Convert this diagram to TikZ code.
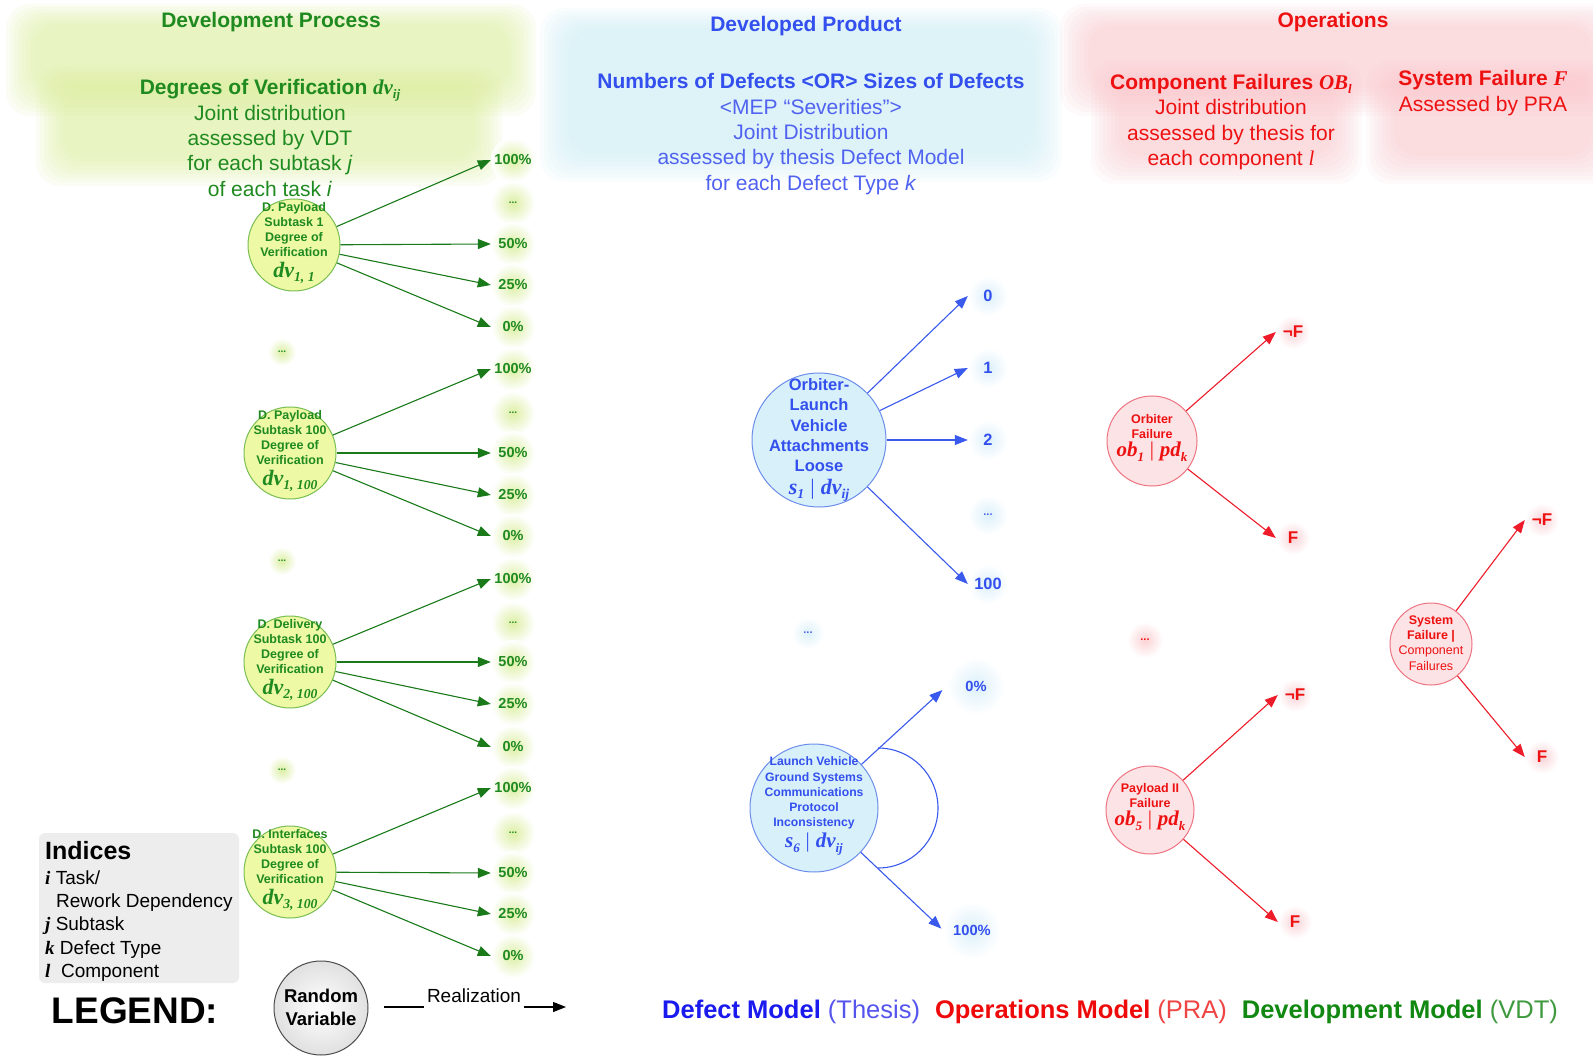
\documentclass[tikz,border=0pt]{standalone}
\usepackage{fontspec}
\usepackage{graphicx}
\setmainfont{Liberation Sans}
\newfontfamily\tms{Liberation Serif}
\usetikzlibrary{arrows.meta}
\newcommand\fs[2]{\fontsize{#1}{#2}\selectfont}
\newcommand\mv[2]{{\tms\bfseries\itshape #1\raisebox{-0.2em}{\scalebox{0.62}{#2}}}}
\newcommand\cnd{\;{\tms\mdseries\upshape|}\;}
\newcommand\ix[1]{{\tms\bfseries\itshape #1}}
\definecolor{gbg}{HTML}{DDF09A}
\definecolor{bbg}{HTML}{CDEEF8}
\definecolor{rbg}{HTML}{FBC8CE}
\definecolor{gtxt}{HTML}{1F8A1F}
\definecolor{gtxt2}{HTML}{2E962E}
\definecolor{btxt}{HTML}{3350EE}
\definecolor{btxt2}{HTML}{5062F0}
\definecolor{rtxt}{HTML}{EE1111}
\definecolor{garr}{HTML}{1A7A1A}
\definecolor{barr}{HTML}{3A5AEE}
\definecolor{rarr}{HTML}{EE1C2A}
\definecolor{gfill}{HTML}{EEF9A6}
\definecolor{gline}{HTML}{78BE50}
\definecolor{bfill}{HTML}{D8F0FA}
\definecolor{bline}{HTML}{6C8EEA}
\definecolor{rfill}{HTML}{FCE3E6}
\definecolor{rline}{HTML}{EE7482}
\definecolor{gglow}{HTML}{DCEFA4}
\definecolor{bglow}{HTML}{DCF0FA}
\definecolor{rglow}{HTML}{F9D3D8}
\definecolor{idxbg}{HTML}{EDEDED}
\definecolor{lgblue}{HTML}{1A1AEE}
\definecolor{lgblue2}{HTML}{5555EE}
\definecolor{lgred}{HTML}{EE0A0A}
\definecolor{lgred2}{HTML}{EE4444}
\definecolor{lggreen}{HTML}{118811}
\definecolor{lggreen2}{HTML}{3F9A3F}
\tikzset{
  htitle/.style={inner sep=0pt, font=\fs{21}{25.4}\bfseries},
  hblock/.style={inner sep=0pt, align=center, font=\fs{21}{25.4}},
  gcirc/.style={circle, draw=gline, fill=gfill, line width=1pt, minimum size=92pt, inner sep=0pt},
  bcirc/.style={circle, draw=bline, fill=bfill, line width=1pt, inner sep=0pt},
  rcirc/.style={circle, draw=rline, fill=rfill, line width=1pt, inner sep=0pt},
  ctext/.style={align=center, inner sep=0pt, font=\fs{12.5}{15.2}\bfseries},
  arrowtip/.style={-{Triangle[length=13pt,width=10pt]}},
  garrow/.style={draw=garr, line width=1.1pt, arrowtip},
  barrow/.style={draw=barr, line width=1.1pt, arrowtip},
  rarrow/.style={draw=rarr, line width=1.1pt, arrowtip},
  glab/.style={circle, inner sep=0pt, minimum size=44pt, shade, shading=radial, inner color=gglow, outer color=white, text=gtxt, font=\fs{14.5}{17}\bfseries},
  blab/.style={circle, inner sep=0pt, minimum size=40pt, shade, shading=radial, inner color=bglow, outer color=white, text=btxt, font=\fs{16.4}{19}\bfseries},
  blab2/.style={blab, minimum size=58pt, font=\fs{14.7}{17}\bfseries},
  rlab/.style={circle, inner sep=0pt, minimum size=34pt, shade, shading=radial, inner color=rglow, outer color=white, text=rtxt, font=\fs{17}{19}\bfseries},
  idxline/.style={anchor=base west, inner sep=0pt, font=\fs{19}{23}},
}
\begin{document}
\begin{tikzpicture}[x=1pt,y=-1pt]
\useasboundingbox (0,0) rectangle (1593,1056);
\fill[white] (0,0) rectangle (1593,1056);
% soft background panels
\begin{scope}
\clip (0,0) rectangle (1593,1056);
\foreach \k in {0,...,7}{
  \fill[gbg, opacity=0.1, rounded corners=24pt] ({6+4*\k},{4+3*\k}) rectangle ({536-4*\k},{116-4*\k});
  \fill[gbg, opacity=0.1, rounded corners=24pt] ({36+4*\k},{66+3*\k}) rectangle ({502-4*\k},{186-4*\k});
  \fill[bbg, opacity=0.11, rounded corners=24pt] ({540+4*\k},{8+3*\k}) rectangle ({1062-4*\k},{182-4*\k});
  \fill[rbg, opacity=0.1, rounded corners=24pt] ({1060+4*\k},{4+3*\k}) rectangle ({1620-4*\k},{116-4*\k});
  \fill[rbg, opacity=0.1, rounded corners=24pt] ({1091+4*\k},{60+3*\k}) rectangle ({1362-4*\k},{184-4*\k});
  \fill[rbg, opacity=0.1, rounded corners=24pt] ({1366+4*\k},{60+3*\k}) rectangle ({1620-4*\k},{184-4*\k});
}
\end{scope}
% headers
\node[htitle, text=gtxt] (devp) at (271,22) {Development Process};
\node[hblock, text=gtxt] (dov) at (270,138) {\textbf{Degrees of Verification \mv{dv}{ij}}\\Joint distribution\\assessed by VDT\\for each subtask \textit{j}\\of each task \textit{i}};
\node[htitle, text=btxt] (devprod) at (806,26) {Developed Product};
\node[hblock, text=btxt2] (nod) at (811,134) {\textcolor{btxt}{\textbf{Numbers of Defects <OR> Sizes of Defects}}\\<MEP “Severities”>\\Joint Distribution\\assessed by thesis Defect Model\\for each Defect Type \textit{k}};
\node[htitle, text=rtxt] (ops) at (1333,22) {Operations};
\node[hblock, text=rtxt] (cf) at (1231,122) {\textbf{Component Failures \mv{OB}{l}}\\Joint distribution\\assessed by thesis for\\each component {\tms\itshape l}};
\node[hblock, text=rtxt] (sf) at (1483,93) {\textbf{System Failure {\tms\bfseries\itshape F}}\\Assessed by PRA};
% green development model
\foreach \n/\cx/\cy/\ya/\yb/\yc/\yd/\ye/\tk/\st/\sb in {
  1/294/245/160/203/244/285/327/Payload/1/{1, 1},
  2/290/453/369/413/453/495/536/Payload/100/{1, 100},
  3/290/662/579/623/662/704/747/Delivery/100/{2, 100},
  4/290/872/788/833/873/914/956/Interfaces/100/{3, 100}}{
  \node[gcirc] (g\n) at (\cx,\cy) {};
  \node[ctext, text=gtxt] (g\n t) at (\cx,\cy-2) {D. \tk\\Subtask \st\\Degree of\\Verification\\[4pt]{\fs{22}{22}\mv{dv}{\sb}}};
  \node[glab] (g\n a) at (513,\ya) {100\%};
  \node[glab, font=\fs{10}{12}\bfseries] (g\n b) at (513,\yb) {...};
  \node[glab] (g\n c) at (513,\yc) {50\%};
  \node[glab] (g\n d) at (513,\yd) {25\%};
  \node[glab] (g\n e) at (513,\ye) {0\%};
  \draw[garrow] (g\n) -- (g\n a.west);
  \draw[garrow] (g\n) -- (g\n c.west);
  \draw[garrow] (g\n) -- (g\n d.west);
  \draw[garrow] (g\n) -- (g\n e.west);
}
\node[glab, minimum size=28pt, font=\fs{10}{12}\bfseries] (gd1) at (282,352) {...};
\node[glab, minimum size=28pt, font=\fs{10}{12}\bfseries] (gd2) at (282,561) {...};
\node[glab, minimum size=28pt, font=\fs{10}{12}\bfseries] (gd3) at (282,770) {...};
% blue defect model
\node[bcirc, minimum size=134pt] (b1) at (819,440) {};
\node[ctext, text=btxt, font=\fs{16.5}{20.3}\bfseries] (b1t) at (819,440) {Orbiter-\\Launch\\Vehicle\\Attachments\\Loose\\[2pt]{\fs{22}{22}\mv{s}{1}\cnd\mv{dv}{ij}}};
\node[blab] (b1a) at (988,296) {0};
\node[blab] (b1b) at (988,368) {1};
\node[blab] (b1c) at (988,440) {2};
\node[blab, font=\fs{11}{12}\bfseries, text=btxt2] (b1d) at (988,515) {...};
\node[blab] (b1e) at (988,584) {100};
\draw[barrow] (b1) -- (b1a.west);
\draw[barrow] (b1) -- (b1b.west);
\draw[barrow] (b1) -- (b1c.west);
\draw[barrow] (b1) -- (b1e.west);
\node[blab, minimum size=32pt, font=\fs{11}{12}\bfseries, text=btxt2] (bdots) at (808,633) {...};
\node[bcirc, minimum size=128pt] (b6) at (814,808) {};
\node[ctext, text=btxt, font=\fs{12.2}{15.2}\bfseries] (b6t) at (814,806) {Launch Vehicle\\Ground Systems\\Communications\\Protocol\\Inconsistency\\[3pt]{\fs{21}{21}\mv{s}{6}\cnd\mv{dv}{ij}}};
\node[blab2] (b6a) at (976,686) {0\%};
\node[blab2] (b6b) at (972,930) {100\%};
\draw[barrow, shorten >=6pt] (b6) -- (b6a.west);
\draw[barrow, shorten >=2pt] (b6) -- (b6b.west);
\draw[draw=barr, line width=1.1pt] (878,748) arc[start angle=-90, end angle=90, radius=60];
% red operations model
\node[rcirc, minimum size=90pt] (r1) at (1152,441) {};
\node[ctext, text=rtxt] (r1t) at (1152,438) {Orbiter\\Failure\\[3pt]{\fs{21}{21}\mv{ob}{1}\cnd\mv{pd}{k}}};
\node[rlab] (r1a) at (1293,332) {¬F};
\node[rlab] (r1b) at (1293,538) {F};
\draw[rarrow] (r1) -- (r1a.west);
\draw[rarrow] (r1) -- (r1b.west);
\node[rlab, minimum size=36pt, inner color=rglow!85!red!60!white, font=\fs{11}{12}\bfseries] (rdots) at (1145,640) {...};
\node[rcirc, minimum size=88pt] (r5) at (1150,810) {};
\node[ctext, text=rtxt] (r5t) at (1150,807) {Payload II\\Failure\\[3pt]{\fs{21}{21}\mv{ob}{5}\cnd\mv{pd}{k}}};
\node[rlab] (r5a) at (1295,695) {¬F};
\node[rlab] (r5b) at (1295,922) {F};
\draw[rarrow] (r5) -- (r5a.west);
\draw[rarrow] (r5) -- (r5b.west);
\node[rcirc, minimum size=82pt] (rs) at (1431,644) {};
\node[ctext, text=rtxt, font=\fs{12.5}{15.2}] (rst) at (1431,643) {\textbf{System}\\\textbf{Failure |}\\Component\\Failures};
\node[rlab] (rsa) at (1542,520) {¬F};
\node[rlab] (rsb) at (1542,757) {F};
\draw[rarrow] (rs) -- (rsa.west);
\draw[rarrow] (rs) -- (rsb.west);
% indices
\fill[idxbg, rounded corners=6pt] (39,833) rectangle (239,983);
\node[anchor=base west, inner sep=0pt, font=\fs{25}{28}\bfseries] (idxh) at (45,859) {Indices};
\node[idxline] (idx1) at (45,884) {\ix{i} Task/};
\node[idxline] (idx2) at (56,907) {Rework Dependency};
\node[idxline] (idx3) at (45,930) {\ix{j} Subtask};
\node[idxline] (idx4) at (45,954) {\ix{k} Defect Type};
\node[idxline] (idx5) at (45,977) {\ix{l}\ \ Component};
% legend
\node[inner sep=0pt, font=\fs{37}{40}\bfseries] (legend) at (135,1011) {LEGEND:};
\node[circle, draw=black!70, line width=1pt, minimum size=94pt, inner sep=0pt, shade, shading=radial, inner color=white, outer color=black!12] (rv) at (321,1008) {};
\node[align=center, inner sep=0pt, font=\fs{18.5}{23}\bfseries] (rvt) at (321,1007) {Random\\Variable};
\coordinate (rs0) at (384,1007);
\coordinate (re0) at (566,1007);
\draw[black, line width=1.1pt, arrowtip] (rs0) -- (re0);
\node[fill=white, inner xsep=3pt, inner ysep=4pt, text depth=6pt, font=\fs{19}{22}] (real) at (474,999) {Realization};
\node[inner sep=0pt, font=\fs{25.5}{28}] (lgd) at (1110,1012) {\textcolor{lgblue}{\textbf{Defect Model}} \textcolor{lgblue2}{(Thesis)}\hspace{15pt}\textcolor{lgred}{\textbf{Operations Model}} \textcolor{lgred2}{(PRA)}\hspace{15pt}\textcolor{lggreen}{\textbf{Development Model}} \textcolor{lggreen2}{(VDT)}};
\end{tikzpicture}
\end{document}
